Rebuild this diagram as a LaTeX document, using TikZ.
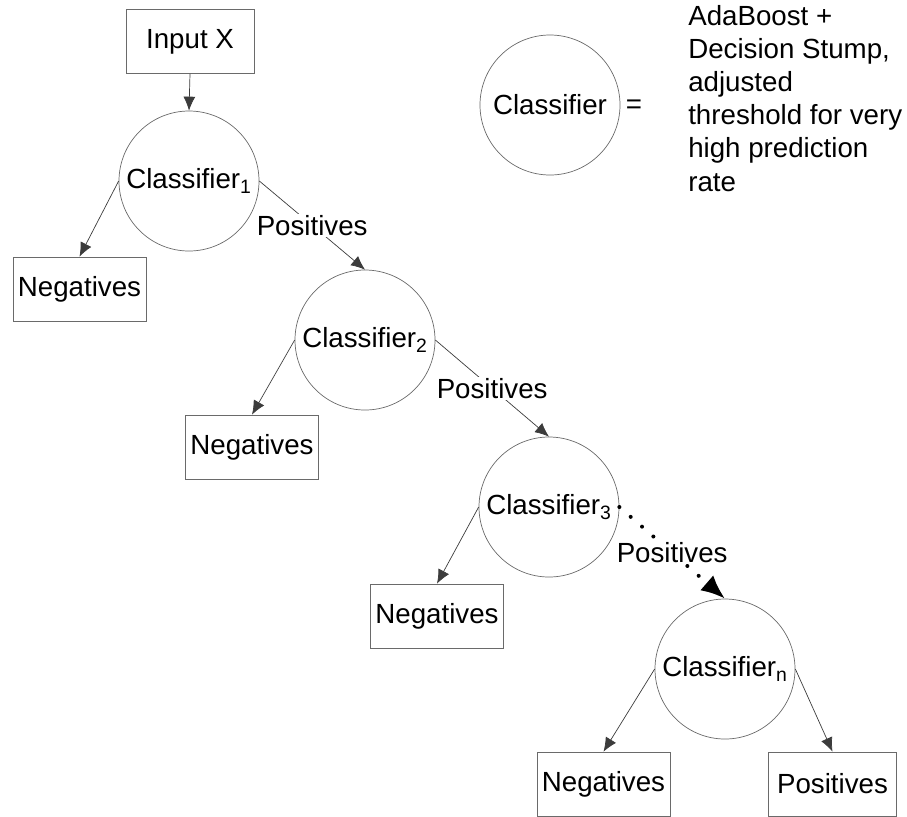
\documentclass[tikz,border=0pt]{standalone}
\usepackage{fontspec}
\setmainfont{Liberation Sans}
\usepackage{tikz}
\usetikzlibrary{arrows.meta, positioning}
\definecolor{linegray}{HTML}{3C3C3C}
\definecolor{rimgray}{HTML}{6A6A6A}

\begin{document}
\begin{tikzpicture}[x=0.25mm, y=-0.25mm,
            font=\fontsize{19.7}{23.6}\selectfont,
            clf/.style={circle, draw=rimgray, line width=0.5pt, minimum size=35mm, inner sep=0pt},
            outbox/.style={rectangle, draw=rimgray, line width=0.5pt, minimum width=32mm, minimum height=16mm, inner xsep=1.2mm},
            arr/.style={-{Latex[length=3.5mm, width=3mm]}, linegray, line width=0.5pt},
            dotarr/.style={-{Latex[length=6mm, width=5mm]}, black, line width=1mm, line cap=round, dash pattern=on 0pt off 3.75mm},
            lbl/.style={fill=white, text=black, inner sep=1pt}]
            \useasboundingbox (0,0) rectangle (907,816);
            \node[outbox] (inp) at (190,41.5) {Input X};
            \node[clf] (c1) at (189,181) {Classifier\textsubscript{1}};
            \node[outbox] (neg1) at (79.5,289) {Negatives};
            \node[clf] (c2) at (365,340) {Classifier\textsubscript{2}};
            \node[outbox] (neg2) at (252,447) {Negatives};
            \node[clf] (c3) at (549,507) {Classifier\textsubscript{3}};
            \node[outbox] (neg3) at (437,616) {Negatives};
            \node[clf] (cn) at (725,669) {Classifier\textsubscript{n}};
            \node[outbox] (negn) at (603.5,784) {Negatives};
            \node[outbox] (posn) at (832.5,784) {Positives};
            \draw[arr] (inp.south) -- (c1.north);
            \draw[arr] (c1.west) -- (neg1.north);
            \draw[arr] (c1.east) -- node[lbl] (pos1) {Positives} (c2.north);
            \draw[arr] (c2.west) -- (neg2.north);
            \draw[arr] (c2.east) -- node[lbl] (pos2) {Positives} (c3.north);
            \draw[arr] (c3.west) -- (neg3.north);
            \draw[dotarr] (c3.east) -- node[lbl] (pos3) {Positives} (cn.north);
            \draw[arr] (cn.west) -- (negn.north);
            \draw[arr] (cn.east) -- (posn.north);
            % legend
            \node[clf] (key) at (550,105) {Classifier};
            \node (eq) at (634,107) {=};
            \node[anchor=base west, align=left, inner sep=0pt] (keytext) at (688,191)
                {AdaBoost +\\Decision Stump,\\adjusted\\threshold for very\\high prediction\\rate};
        \end{tikzpicture}
\end{document}
